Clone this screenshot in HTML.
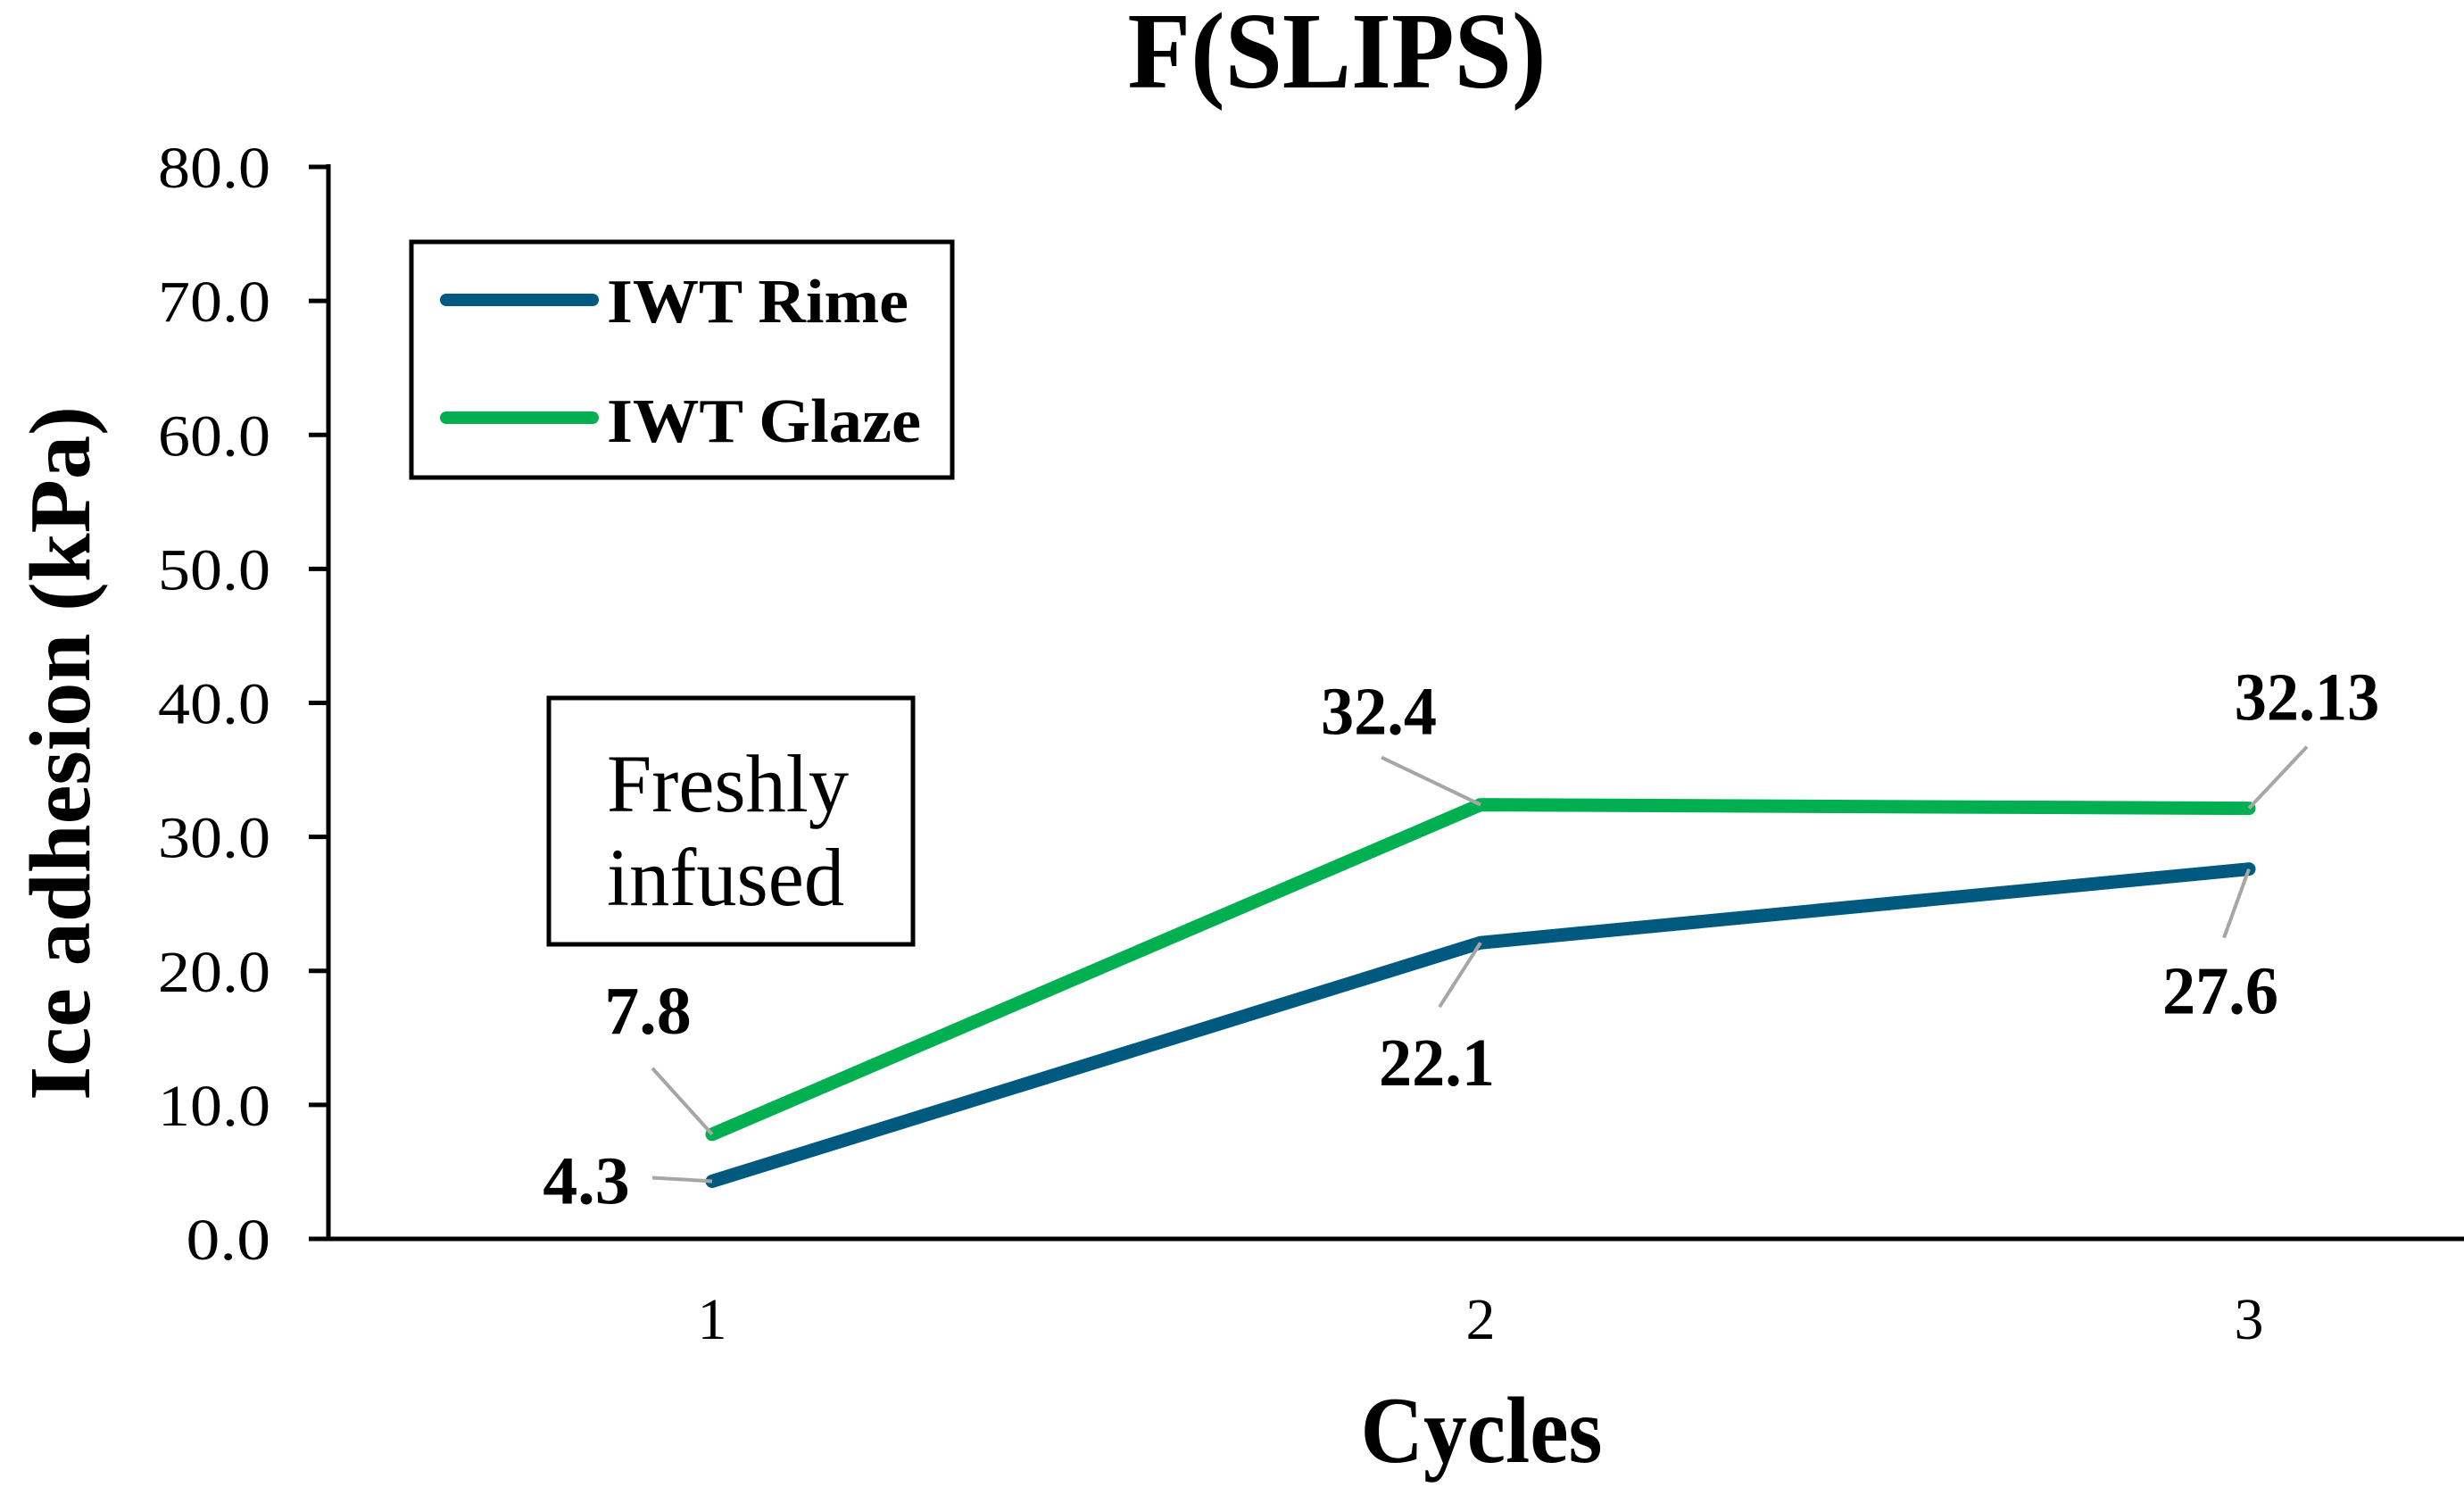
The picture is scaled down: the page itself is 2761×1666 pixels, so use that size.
<!DOCTYPE html>
<html><head><meta charset="utf-8"><style>
html,body{margin:0;padding:0;background:#fff;}
svg{display:block;font-family:"Liberation Serif",serif;}
</style></head><body>
<svg id="chart" width="2761" height="1666" viewBox="0 0 2761 1666">
<text x="1498" y="98" text-anchor="middle" font-size="122" font-weight="bold" textLength="469" lengthAdjust="spacingAndGlyphs">F(SLIPS)</text>
<g id="axes"></g>
<g id="series"></g>
<g id="labels"></g>
<g>
<rect x="461" y="271" width="606" height="264" fill="#fff" stroke="#000" stroke-width="5"/>
<line x1="500" y1="336" x2="664" y2="336" stroke="#005a80" stroke-width="14" stroke-linecap="round"/>
<text x="680" y="361" font-size="70" font-weight="bold" textLength="338" lengthAdjust="spacingAndGlyphs">IWT Rime</text>
<line x1="500" y1="468" x2="664" y2="468" stroke="#00b050" stroke-width="14" stroke-linecap="round"/>
<text x="680" y="495" font-size="70" font-weight="bold" textLength="352" lengthAdjust="spacingAndGlyphs">IWT Glaze</text>
</g>
<g>
<rect x="615" y="782" width="408" height="276" fill="#fff" stroke="#000" stroke-width="5"/>
<text x="680" y="909" font-size="92" textLength="271" lengthAdjust="spacingAndGlyphs">Freshly</text>
<text x="680" y="1014" font-size="92" textLength="266" lengthAdjust="spacingAndGlyphs">infused</text>
</g>
<text transform="translate(100,844) rotate(-90)" text-anchor="middle" font-size="98" font-weight="bold" textLength="778" lengthAdjust="spacingAndGlyphs">Ice adhesion (kPa)</text>
<text x="1660" y="1638" text-anchor="middle" font-size="106" font-weight="bold" textLength="271" lengthAdjust="spacingAndGlyphs">Cycles</text>
</svg>
<script>
const categories = [1, 2, 3];
const rimeValues = [4.3, 22.1, 27.6];
const glazeValues = [7.8, 32.4, 32.13];
const rimeLabels = ["4.3", "22.1", "27.6"];
const glazeLabels = ["7.8", "32.4", "32.13"];
const yTicks = [0, 10, 20, 30, 40, 50, 60, 70, 80];

const NS = "http://www.w3.org/2000/svg";
const X0 = 368, XEND = 2761, Y0 = 1388, Y80 = 187;
const xCat = i => 798 + i * 861;
const yVal = v => Y0 - (v / 80) * (Y0 - Y80);
function mk(tag, attrs, parent) {
  const e = document.createElementNS(NS, tag);
  for (const k in attrs) e.setAttribute(k, attrs[k]);
  parent.appendChild(e);
  return e;
}
const axes = document.getElementById('axes');
let el = mk('line', {x1: X0, y1: Y80 - 3, x2: X0, y2: Y0, stroke: '#000', 'stroke-width': 5}, axes);


el = mk('line', {x1: X0 - 22, y1: Y0, x2: XEND, y2: Y0, stroke: '#000', 'stroke-width': 5}, axes);


yTicks.forEach(t => {
  const y = yVal(t);
  const tk = mk('line', {x1: X0 - 22, y1: y, x2: X0, y2: y, stroke: '#000', 'stroke-width': 5}, axes);
  
  
  const s = t.toFixed(1);
  const tx = mk('text', {x: 303, y: y + 23, 'text-anchor': 'end', 'font-size': 66, textLength: s.length * 31.5, lengthAdjust: 'spacingAndGlyphs'}, axes);
  tx.textContent = s;
  
  
});
categories.forEach((c, i) => {
  const tx = mk('text', {x: xCat(i), y: 1500, 'text-anchor': 'middle', 'font-size': 66}, axes);
  tx.textContent = c;
  
  
});
const series = document.getElementById('series');
function drawLine(vals, color, name) {
  const pts = vals.map((v, i) => xCat(i) + ',' + yVal(v)).join(' ');
  const p = mk('polyline', {points: pts, fill: 'none', stroke: color, 'stroke-width': 15, 'stroke-linejoin': 'round', 'stroke-linecap': 'round'}, series);
  
  
}
drawLine(rimeValues, '#005a80', 'series-iwt-rime');
drawLine(glazeValues, '#00b050', 'series-iwt-glaze');

const labels = document.getElementById('labels');
// [text dx, baseline dy, leader end dx, leader end dy] relative to the point
const rimeOff = [[-141, 25, -67, -4], [-49, 160, -46, 72], [-32, 162, -28, 77]];
const glazeOff = [[-72, -113, -67, -74], [-114, -79, -111, -53], [65, -99, 65, -69]];
function drawLabels(vals, texts, offs, name) {
  vals.forEach((v, i) => {
    const px = xCat(i), py = yVal(v);
    const o = offs[i];
    const ld = mk('line', {x1: px, y1: py, x2: px + o[2], y2: py + o[3], stroke: '#a6a6a6', 'stroke-width': 4}, labels);
    
    
    const s = texts[i];
    const tx = mk('text', {x: px + o[0], y: py + o[1], 'text-anchor': 'middle', 'font-size': 76, 'font-weight': 'bold', textLength: s.length * 32.5, lengthAdjust: 'spacingAndGlyphs'}, labels);
    tx.textContent = s;
    
    
  });
}
drawLabels(rimeValues, rimeLabels, rimeOff, 'rime-data-label');
drawLabels(glazeValues, glazeLabels, glazeOff, 'glaze-data-label');
</script>
</body></html>
